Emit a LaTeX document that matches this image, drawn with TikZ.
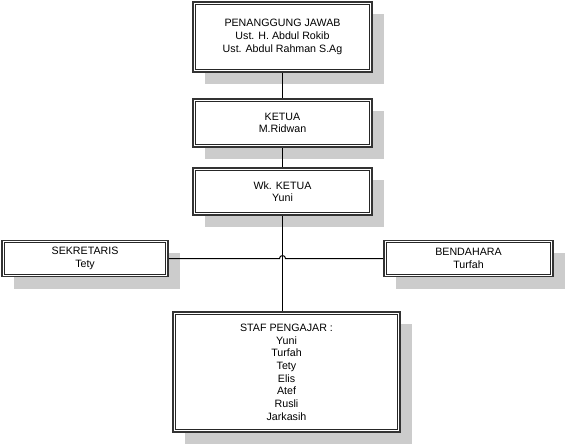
\documentclass[tikz,border=0pt]{standalone}
\usepackage{fontspec}
\setmainfont{Liberation Sans}

\begin{document}
\begin{tikzpicture}[-,line width=0.75pt,x=0.75pt,y=0.75pt,
    font=\fontsize{8}{9.5}\selectfont,
    jabatan/.style={rectangle,draw=black!80,line width=1.2pt,fill=white,align=center,inner sep=2pt,
        preaction={fill=black!20,draw=none,transform canvas={xshift=9pt,yshift=-9pt}}},
    garisdalam/.style={draw=black!85,line width=0.6pt}]

\useasboundingbox (0,0) rectangle (565,-446);

\node[jabatan,minimum width=134.25pt,minimum height=52.5pt] (pj) at (282.5,-37)
    {PENANGGUNG JAWAB\\Ust. H. Abdul Rokib\\Ust. Abdul Rahman S.Ag};
\node[jabatan,minimum width=134.25pt,minimum height=36pt] (ketua) [below of=pj,node distance=64.5pt]
    {KETUA\\M.Ridwan};
\node[jabatan,minimum width=134.25pt,minimum height=35.25pt] (wakil) [below of=ketua,node distance=51.4pt]
    {Wk. KETUA\\Yuni};

\node[jabatan,minimum width=124.5pt,minimum height=27pt] (sek) [below of=wakil,node distance=50.25pt,xshift=-148.1pt]
    {SEKRETARIS\\Tety};
\node[jabatan,minimum width=126.75pt,minimum height=27pt] (bend) [below of=wakil,node distance=50.25pt,xshift=139.5pt]
    {BENDAHARA\\Turfah};

\node[jabatan,minimum width=170.25pt,minimum height=90pt] (staf) [below of=wakil,node distance=135.4pt,xshift=3pt]
    {STAF PENGAJAR :\\Yuni\\Turfah\\Tety\\Elis\\Atef\\Rusli\\Jarkasih};

% garis dalam
\foreach \n in {pj,ketua,wakil,sek,bend,staf}
    \draw[garisdalam] ([shift={(2.3pt,2.3pt)}]\n.south west) rectangle ([shift={(-2.3pt,-2.3pt)}]\n.north east);

\coordinate (hop) at (wakil.south |- sek.east);

\path
	(pj) edge (ketua)
	(ketua) edge (wakil);
\draw (wakil.south) -- (wakil.south |- staf.north);
\draw (sek.east) -- ([xshift=-2.25pt]hop) arc[start angle=180,end angle=0,radius=2.25pt] -- (bend.west);

\end{tikzpicture}
\end{document}
